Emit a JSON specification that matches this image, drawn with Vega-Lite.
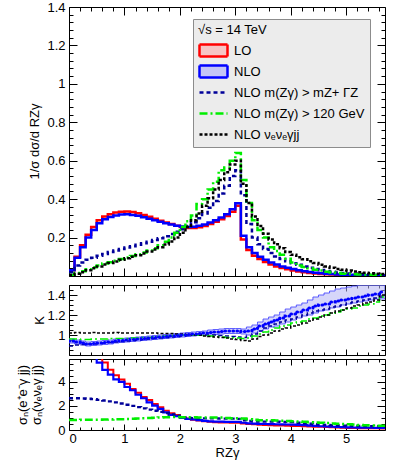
{
 "$schema": "https://vega.github.io/schema/vega-lite/v6.json",
 "padding": {"left": 15, "top": 0, "right": 9, "bottom": 0},
 "autosize": {"type": "pad"},
 "bounds": "flush",
 "spacing": 9,
 "config": {
  "font": "Liberation Sans",
  "view": {"stroke": "black", "strokeWidth": 1},
  "axis": {"domain": false, "grid": false, "labelFont": "Liberation Sans", "labelFontSize": 13, "labelColor": "black", "tickColor": "black", "tickWidth": 1, "titleFont": "Liberation Sans", "titleFontSize": 13, "titleFontWeight": "normal", "titleColor": "black", "labelOverlap": false, "minExtent": 0},
  "axisY": {"minExtent": 0, "labelPadding": 12},
  "axisX": {"minExtent": 0, "labelPadding": 8}
 },
 "resolve": {"scale": {"x": "independent", "y": "independent", "color": "independent", "strokeDash": "independent", "strokeWidth": "independent"}},
 "datasets": {
  "top": [
   {"x":0,"LO":0.03,"NLO":0.03,"A":0.02,"B":0.005,"C":0.005},
   {"x":0.1,"LO":0.10,"NLO":0.095,"A":0.055,"B":0.015,"C":0.012},
   {"x":0.2,"LO":0.16,"NLO":0.15,"A":0.07,"B":0.025,"C":0.02},
   {"x":0.3,"LO":0.215,"NLO":0.20,"A":0.085,"B":0.035,"C":0.03},
   {"x":0.4,"LO":0.255,"NLO":0.24,"A":0.095,"B":0.045,"C":0.04},
   {"x":0.5,"LO":0.29,"NLO":0.275,"A":0.105,"B":0.055,"C":0.05},
   {"x":0.6,"LO":0.31,"NLO":0.295,"A":0.115,"B":0.065,"C":0.06},
   {"x":0.7,"LO":0.322,"NLO":0.307,"A":0.125,"B":0.072,"C":0.068},
   {"x":0.8,"LO":0.33,"NLO":0.315,"A":0.133,"B":0.08,"C":0.076},
   {"x":0.9,"LO":0.335,"NLO":0.32,"A":0.14,"B":0.088,"C":0.085},
   {"x":1.0,"LO":0.336,"NLO":0.321,"A":0.148,"B":0.096,"C":0.093},
   {"x":1.1,"LO":0.333,"NLO":0.318,"A":0.155,"B":0.104,"C":0.1},
   {"x":1.2,"LO":0.327,"NLO":0.313,"A":0.162,"B":0.113,"C":0.108},
   {"x":1.3,"LO":0.318,"NLO":0.306,"A":0.17,"B":0.122,"C":0.117},
   {"x":1.4,"LO":0.308,"NLO":0.298,"A":0.178,"B":0.133,"C":0.127},
   {"x":1.5,"LO":0.298,"NLO":0.29,"A":0.187,"B":0.145,"C":0.138},
   {"x":1.6,"LO":0.288,"NLO":0.282,"A":0.196,"B":0.16,"C":0.15},
   {"x":1.7,"LO":0.279,"NLO":0.275,"A":0.207,"B":0.178,"C":0.164},
   {"x":1.8,"LO":0.27,"NLO":0.268,"A":0.218,"B":0.2,"C":0.18},
   {"x":1.9,"LO":0.262,"NLO":0.262,"A":0.23,"B":0.225,"C":0.2},
   {"x":2.0,"LO":0.255,"NLO":0.257,"A":0.243,"B":0.255,"C":0.225},
   {"x":2.1,"LO":0.25,"NLO":0.255,"A":0.26,"B":0.285,"C":0.255},
   {"x":2.2,"LO":0.25,"NLO":0.256,"A":0.28,"B":0.315,"C":0.29},
   {"x":2.3,"LO":0.254,"NLO":0.262,"A":0.3,"B":0.375,"C":0.325},
   {"x":2.4,"LO":0.26,"NLO":0.268,"A":0.325,"B":0.4,"C":0.365},
   {"x":2.5,"LO":0.27,"NLO":0.278,"A":0.355,"B":0.45,"C":0.405},
   {"x":2.6,"LO":0.282,"NLO":0.29,"A":0.39,"B":0.49,"C":0.45},
   {"x":2.7,"LO":0.296,"NLO":0.305,"A":0.43,"B":0.55,"C":0.5},
   {"x":2.8,"LO":0.312,"NLO":0.322,"A":0.47,"B":0.565,"C":0.54},
   {"x":2.9,"LO":0.335,"NLO":0.348,"A":0.52,"B":0.6,"C":0.58},
   {"x":3.0,"LO":0.365,"NLO":0.378,"A":0.55,"B":0.64,"C":0.6},
   {"x":3.1,"LO":0.19,"NLO":0.21,"A":0.42,"B":0.5,"C":0.48},
   {"x":3.2,"LO":0.135,"NLO":0.15,"A":0.27,"B":0.38,"C":0.38},
   {"x":3.3,"LO":0.105,"NLO":0.12,"A":0.2,"B":0.29,"C":0.31},
   {"x":3.4,"LO":0.088,"NLO":0.1,"A":0.165,"B":0.24,"C":0.26},
   {"x":3.5,"LO":0.073,"NLO":0.085,"A":0.14,"B":0.2,"C":0.22},
   {"x":3.6,"LO":0.06,"NLO":0.07,"A":0.12,"B":0.15,"C":0.19},
   {"x":3.7,"LO":0.05,"NLO":0.06,"A":0.102,"B":0.13,"C":0.165},
   {"x":3.8,"LO":0.042,"NLO":0.05,"A":0.088,"B":0.11,"C":0.145},
   {"x":3.9,"LO":0.035,"NLO":0.043,"A":0.077,"B":0.09,"C":0.125},
   {"x":4.0,"LO":0.029,"NLO":0.037,"A":0.067,"B":0.07,"C":0.11},
   {"x":4.1,"LO":0.024,"NLO":0.03,"A":0.058,"B":0.055,"C":0.098},
   {"x":4.2,"LO":0.02,"NLO":0.025,"A":0.05,"B":0.047,"C":0.087},
   {"x":4.3,"LO":0.016,"NLO":0.021,"A":0.043,"B":0.04,"C":0.077},
   {"x":4.4,"LO":0.013,"NLO":0.017,"A":0.036,"B":0.033,"C":0.068},
   {"x":4.5,"LO":0.011,"NLO":0.014,"A":0.031,"B":0.028,"C":0.058},
   {"x":4.6,"LO":0.009,"NLO":0.012,"A":0.026,"B":0.022,"C":0.05},
   {"x":4.7,"LO":0.008,"NLO":0.01,"A":0.022,"B":0.018,"C":0.043},
   {"x":4.8,"LO":0.006,"NLO":0.008,"A":0.018,"B":0.015,"C":0.037},
   {"x":4.9,"LO":0.005,"NLO":0.007,"A":0.015,"B":0.012,"C":0.032},
   {"x":5.0,"LO":0.004,"NLO":0.006,"A":0.013,"B":0.01,"C":0.028},
   {"x":5.1,"LO":0.004,"NLO":0.005,"A":0.011,"B":0.009,"C":0.024},
   {"x":5.2,"LO":0.003,"NLO":0.004,"A":0.009,"B":0.008,"C":0.02},
   {"x":5.3,"LO":0.003,"NLO":0.004,"A":0.008,"B":0.007,"C":0.017},
   {"x":5.4,"LO":0.002,"NLO":0.003,"A":0.006,"B":0.006,"C":0.014},
   {"x":5.5,"LO":0.002,"NLO":0.003,"A":0.005,"B":0.005,"C":0.012},
   {"x":5.6,"LO":0.002,"NLO":0.002,"A":0.004,"B":0.005,"C":0.01},
   {"x":5.7,"LO":0.002,"NLO":0.002,"A":0.004,"B":0.005,"C":0.01}
  ],
  "k": [
   {"x":0,"lo":0.92,"hi":0.96,"c":0.94,"A":0.89,"B":0.96,"C":1.02},
   {"x":0.1,"lo":0.91,"hi":0.95,"c":0.93,"A":0.9,"B":0.96,"C":1.025},
   {"x":0.2,"lo":0.9,"hi":0.94,"c":0.92,"A":0.905,"B":0.955,"C":1.02},
   {"x":0.3,"lo":0.89,"hi":0.93,"c":0.91,"A":0.91,"B":0.955,"C":1.02},
   {"x":0.4,"lo":0.895,"hi":0.935,"c":0.915,"A":0.91,"B":0.96,"C":1.025},
   {"x":0.5,"lo":0.9,"hi":0.94,"c":0.92,"A":0.915,"B":0.96,"C":1.02},
   {"x":0.6,"lo":0.905,"hi":0.945,"c":0.925,"A":0.92,"B":0.96,"C":1.02},
   {"x":0.7,"lo":0.91,"hi":0.95,"c":0.93,"A":0.925,"B":0.965,"C":1.02},
   {"x":0.8,"lo":0.92,"hi":0.96,"c":0.94,"A":0.93,"B":0.965,"C":1.025},
   {"x":0.9,"lo":0.925,"hi":0.965,"c":0.945,"A":0.935,"B":0.965,"C":1.02},
   {"x":1.0,"lo":0.93,"hi":0.97,"c":0.95,"A":0.94,"B":0.965,"C":1.02},
   {"x":1.1,"lo":0.935,"hi":0.975,"c":0.955,"A":0.945,"B":0.97,"C":1.02},
   {"x":1.2,"lo":0.94,"hi":0.98,"c":0.96,"A":0.95,"B":0.97,"C":1.02},
   {"x":1.3,"lo":0.945,"hi":0.985,"c":0.965,"A":0.955,"B":0.975,"C":1.02},
   {"x":1.4,"lo":0.95,"hi":0.99,"c":0.97,"A":0.96,"B":0.975,"C":1.02},
   {"x":1.5,"lo":0.955,"hi":0.995,"c":0.975,"A":0.965,"B":0.98,"C":1.02},
   {"x":1.6,"lo":0.96,"hi":1.0,"c":0.98,"A":0.97,"B":0.985,"C":1.015},
   {"x":1.7,"lo":0.965,"hi":1.005,"c":0.985,"A":0.975,"B":0.99,"C":1.015},
   {"x":1.8,"lo":0.97,"hi":1.01,"c":0.99,"A":0.98,"B":0.995,"C":1.015},
   {"x":1.9,"lo":0.975,"hi":1.015,"c":0.995,"A":0.985,"B":1.0,"C":1.01},
   {"x":2.0,"lo":0.98,"hi":1.02,"c":1.0,"A":0.99,"B":1.0,"C":1.01},
   {"x":2.1,"lo":0.985,"hi":1.025,"c":1.005,"A":0.995,"B":1.0,"C":1.005},
   {"x":2.2,"lo":0.99,"hi":1.03,"c":1.01,"A":1.0,"B":1.0,"C":1.0},
   {"x":2.3,"lo":0.995,"hi":1.035,"c":1.015,"A":1.0,"B":1.0,"C":1.0},
   {"x":2.4,"lo":1.0,"hi":1.04,"c":1.02,"A":1.0,"B":0.995,"C":0.99},
   {"x":2.5,"lo":1.0,"hi":1.05,"c":1.025,"A":1.0,"B":0.99,"C":0.985},
   {"x":2.6,"lo":1.005,"hi":1.055,"c":1.03,"A":1.0,"B":0.985,"C":0.98},
   {"x":2.7,"lo":1.01,"hi":1.06,"c":1.035,"A":0.995,"B":0.98,"C":0.975},
   {"x":2.8,"lo":1.015,"hi":1.065,"c":1.04,"A":0.99,"B":0.975,"C":0.97},
   {"x":2.9,"lo":1.015,"hi":1.065,"c":1.04,"A":0.985,"B":0.972,"C":0.96},
   {"x":3.0,"lo":1.015,"hi":1.065,"c":1.04,"A":0.98,"B":0.97,"C":0.955},
   {"x":3.1,"lo":1.01,"hi":1.06,"c":1.035,"A":0.975,"B":0.965,"C":0.945},
   {"x":3.2,"lo":1.0,"hi":1.08,"c":1.04,"A":0.99,"B":0.97,"C":0.94},
   {"x":3.3,"lo":1.02,"hi":1.1,"c":1.06,"A":1.01,"B":0.99,"C":0.96},
   {"x":3.4,"lo":1.04,"hi":1.13,"c":1.09,"A":1.04,"B":1.01,"C":0.985},
   {"x":3.5,"lo":1.06,"hi":1.16,"c":1.11,"A":1.07,"B":1.03,"C":1.0},
   {"x":3.6,"lo":1.08,"hi":1.18,"c":1.13,"A":1.09,"B":1.05,"C":1.02},
   {"x":3.7,"lo":1.09,"hi":1.2,"c":1.15,"A":1.11,"B":1.07,"C":1.04},
   {"x":3.8,"lo":1.11,"hi":1.23,"c":1.17,"A":1.13,"B":1.09,"C":1.06},
   {"x":3.9,"lo":1.13,"hi":1.26,"c":1.19,"A":1.15,"B":1.1,"C":1.07},
   {"x":4.0,"lo":1.15,"hi":1.28,"c":1.21,"A":1.16,"B":1.12,"C":1.09},
   {"x":4.1,"lo":1.17,"hi":1.3,"c":1.23,"A":1.18,"B":1.13,"C":1.1},
   {"x":4.2,"lo":1.19,"hi":1.32,"c":1.25,"A":1.2,"B":1.14,"C":1.12},
   {"x":4.3,"lo":1.2,"hi":1.35,"c":1.27,"A":1.22,"B":1.16,"C":1.14},
   {"x":4.4,"lo":1.22,"hi":1.38,"c":1.29,"A":1.24,"B":1.17,"C":1.16},
   {"x":4.5,"lo":1.24,"hi":1.4,"c":1.3,"A":1.25,"B":1.19,"C":1.18},
   {"x":4.6,"lo":1.25,"hi":1.42,"c":1.31,"A":1.26,"B":1.2,"C":1.2},
   {"x":4.7,"lo":1.27,"hi":1.44,"c":1.33,"A":1.28,"B":1.22,"C":1.22},
   {"x":4.8,"lo":1.28,"hi":1.46,"c":1.34,"A":1.29,"B":1.23,"C":1.24},
   {"x":4.9,"lo":1.3,"hi":1.47,"c":1.35,"A":1.3,"B":1.25,"C":1.25},
   {"x":5.0,"lo":1.31,"hi":1.48,"c":1.36,"A":1.32,"B":1.26,"C":1.27},
   {"x":5.1,"lo":1.32,"hi":1.49,"c":1.37,"A":1.33,"B":1.27,"C":1.29},
   {"x":5.2,"lo":1.33,"hi":1.5,"c":1.38,"A":1.34,"B":1.29,"C":1.3},
   {"x":5.3,"lo":1.34,"hi":1.5,"c":1.39,"A":1.35,"B":1.3,"C":1.32},
   {"x":5.4,"lo":1.35,"hi":1.5,"c":1.4,"A":1.36,"B":1.31,"C":1.33},
   {"x":5.5,"lo":1.36,"hi":1.5,"c":1.41,"A":1.37,"B":1.33,"C":1.35},
   {"x":5.6,"lo":1.36,"hi":1.5,"c":1.43,"A":1.38,"B":1.38,"C":1.4},
   {"x":5.7,"lo":1.36,"hi":1.5,"c":1.43,"A":1.38,"B":1.38,"C":1.4}
  ],
  "r": [
   {"x":0,"LO":9,"NLO":null,"A":2.64,"B":0.84},
   {"x":0.1,"LO":9,"NLO":null,"A":2.64,"B":0.84},
   {"x":0.2,"LO":9,"NLO":null,"A":2.62,"B":0.85},
   {"x":0.3,"LO":9,"NLO":null,"A":2.6,"B":0.85},
   {"x":0.4,"LO":9,"NLO":8,"A":2.56,"B":0.86},
   {"x":0.5,"LO":8,"NLO":5.6,"A":2.5,"B":0.86},
   {"x":0.6,"LO":5.6,"NLO":5.0,"A":2.45,"B":0.87},
   {"x":0.7,"LO":5.0,"NLO":4.6,"A":2.38,"B":0.88},
   {"x":0.8,"LO":4.55,"NLO":4.2,"A":2.3,"B":0.89},
   {"x":0.9,"LO":4.2,"NLO":4.0,"A":2.2,"B":0.9},
   {"x":1.0,"LO":3.85,"NLO":3.57,"A":2.1,"B":0.92},
   {"x":1.1,"LO":3.4,"NLO":3.3,"A":2.0,"B":0.94},
   {"x":1.2,"LO":3.1,"NLO":2.93,"A":1.9,"B":0.96},
   {"x":1.3,"LO":2.75,"NLO":2.64,"A":1.8,"B":0.98},
   {"x":1.4,"LO":2.5,"NLO":2.3,"A":1.7,"B":1.0},
   {"x":1.5,"LO":2.17,"NLO":2.03,"A":1.6,"B":1.02},
   {"x":1.6,"LO":1.9,"NLO":1.75,"A":1.5,"B":1.04},
   {"x":1.7,"LO":1.6,"NLO":1.47,"A":1.4,"B":1.06},
   {"x":1.8,"LO":1.4,"NLO":1.25,"A":1.3,"B":1.08},
   {"x":1.9,"LO":1.25,"NLO":1.15,"A":1.2,"B":1.08},
   {"x":2.0,"LO":1.05,"NLO":1.0,"A":1.05,"B":1.05},
   {"x":2.1,"LO":0.95,"NLO":0.92,"A":1.0,"B":1.05},
   {"x":2.2,"LO":0.85,"NLO":0.88,"A":0.98,"B":1.05},
   {"x":2.3,"LO":0.78,"NLO":0.82,"A":0.97,"B":1.04},
   {"x":2.4,"LO":0.72,"NLO":0.76,"A":0.97,"B":1.04},
   {"x":2.5,"LO":0.68,"NLO":0.72,"A":0.96,"B":1.04},
   {"x":2.6,"LO":0.65,"NLO":0.7,"A":0.96,"B":1.04},
   {"x":2.7,"LO":0.63,"NLO":0.69,"A":0.95,"B":1.03},
   {"x":2.8,"LO":0.62,"NLO":0.68,"A":0.95,"B":1.0},
   {"x":2.9,"LO":0.61,"NLO":0.68,"A":0.95,"B":0.98},
   {"x":3.0,"LO":0.6,"NLO":0.67,"A":0.92,"B":0.98},
   {"x":3.1,"LO":0.55,"NLO":0.6,"A":0.8,"B":0.95},
   {"x":3.2,"LO":0.5,"NLO":0.55,"A":0.75,"B":0.9},
   {"x":3.3,"LO":0.47,"NLO":0.53,"A":0.72,"B":0.85},
   {"x":3.4,"LO":0.44,"NLO":0.51,"A":0.7,"B":0.82},
   {"x":3.5,"LO":0.42,"NLO":0.5,"A":0.7,"B":0.8},
   {"x":3.6,"LO":0.4,"NLO":0.49,"A":0.7,"B":0.8},
   {"x":3.7,"LO":0.38,"NLO":0.48,"A":0.69,"B":0.78},
   {"x":3.8,"LO":0.37,"NLO":0.47,"A":0.68,"B":0.76},
   {"x":3.9,"LO":0.36,"NLO":0.46,"A":0.67,"B":0.74},
   {"x":4.0,"LO":0.34,"NLO":0.44,"A":0.66,"B":0.72},
   {"x":4.1,"LO":0.33,"NLO":0.42,"A":0.6,"B":0.7},
   {"x":4.2,"LO":0.32,"NLO":0.4,"A":0.56,"B":0.68},
   {"x":4.3,"LO":0.3,"NLO":0.37,"A":0.52,"B":0.65},
   {"x":4.4,"LO":0.28,"NLO":0.34,"A":0.48,"B":0.62},
   {"x":4.5,"LO":0.26,"NLO":0.31,"A":0.45,"B":0.6},
   {"x":4.6,"LO":0.24,"NLO":0.29,"A":0.42,"B":0.58},
   {"x":4.7,"LO":0.22,"NLO":0.27,"A":0.4,"B":0.55},
   {"x":4.8,"LO":0.2,"NLO":0.25,"A":0.38,"B":0.52},
   {"x":4.9,"LO":0.18,"NLO":0.24,"A":0.37,"B":0.5},
   {"x":5.0,"LO":0.17,"NLO":0.22,"A":0.36,"B":0.47},
   {"x":5.1,"LO":0.16,"NLO":0.21,"A":0.35,"B":0.45},
   {"x":5.2,"LO":0.15,"NLO":0.2,"A":0.34,"B":0.42},
   {"x":5.3,"LO":0.15,"NLO":0.2,"A":0.33,"B":0.4},
   {"x":5.4,"LO":0.14,"NLO":0.19,"A":0.32,"B":0.38},
   {"x":5.5,"LO":0.14,"NLO":0.18,"A":0.31,"B":0.36},
   {"x":5.6,"LO":0.13,"NLO":0.17,"A":0.3,"B":0.35},
   {"x":5.7,"LO":0.13,"NLO":0.17,"A":0.3,"B":0.35}
  ]
 },
 "vconcat": [
  {
   "width": 316, "height": 269,
   "data": {"name": "top"},
   "resolve": {"axis": {"x": "independent", "y": "independent"}},
   "layer": [
    {
     "transform": [{"fold": ["LO","NLO","A","B","C"], "as": ["s","y"]}],
     "mark": {"type": "line", "interpolate": "step-after", "clip": true},
     "encoding": {
      "x": {"field": "x", "type": "quantitative", "scale": {"domain": [0, 5.7], "nice": false, "zero": false},
            "axis": {"orient": "bottom", "title": null, "labels": false, "values": [0,0.2,0.4,0.6,0.8,1,1.2,1.4,1.6,1.8,2,2.2,2.4,2.6,2.8,3,3.2,3.4,3.6,3.8,4,4.2,4.4,4.6,4.8,5,5.2,5.4,5.6],
                     "tickSize": {"condition": {"test": "abs(datum.value-round(datum.value))<0.001", "value": -8}, "value": -4}}},
      "y": {"field": "y", "type": "quantitative", "scale": {"domain": [0, 1.4], "nice": false},
            "axis": {"orient": "left", "title": "1/σ dσ/d RZγ", "titleX": -35, "titleY": 134, "titleAngle": 270, "titleAlign": "center", "titleBaseline": "middle",
                     "values": [0,0.04,0.08,0.12,0.16,0.2,0.24,0.28,0.32,0.36,0.4,0.44,0.48,0.52,0.56,0.6,0.64,0.68,0.72,0.76,0.8,0.84,0.88,0.92,0.96,1,1.04,1.08,1.12,1.16,1.2,1.24,1.28,1.32,1.36,1.4],
                     "labelExpr": "abs(datum.value*5-round(datum.value*5))<0.001 && datum.value>0.01 ? format(datum.value,'~g') : ''",
                     "tickSize": {"condition": {"test": "abs(datum.value*5-round(datum.value*5))<0.001", "value": -8}, "value": -4}}},
      "color": {"field": "s", "type": "nominal",
                "scale": {"domain": ["LO","NLO","A","B","C"], "range": ["#ff0000","#0000ff","#000099","#00ee00","#000000"]},
                "legend": {"title": "√s = 14 TeV", "orient": "none", "legendX": 124, "legendY": 12,
                           "fillColor": "#ececec", "strokeColor": "#8c8c8c", "padding": 5,
                           "titleFontSize": 13, "titleFontWeight": "normal", "titleFont": "Liberation Sans", "titleColor": "black", "titlePadding": 4,
                           "labelFontSize": 13, "labelFont": "Liberation Sans", "labelColor": "black", "labelOffset": 17, "labelLimit": 300,
                           "symbolSize": 256, "symbolType": "M-1,0L2.5,0", "symbolStrokeWidth": 1.5, "rowPadding": 4,
                           "labelExpr": "datum.label=='A' ? 'NLO m(Zγ) > mZ+ ΓZ' : datum.label=='B' ? 'NLO m(Zγ) > 120 GeV\u00a0\u00a0\u00a0\u00a0' : datum.label=='C' ? 'NLO  νₑνₑγjj' : datum.label",
                           "encode": {"symbols": {"update": {
                             "shape": {"signal": "(datum.value=='LO'||datum.value=='NLO') ? 'M-1,-0.75L2.5,-0.75L2.5,0.75L-1,0.75Z' : 'M-1,0L2.5,0'"},
                             "fill": {"signal": "datum.value=='LO' ? '#f6c4c4' : datum.value=='NLO' ? '#c4c4f6' : 'transparent'"},
                             "strokeJoin": {"value": "round"},
                             "strokeWidth": {"signal": "datum.value=='C' ? 3 : datum.value=='LO' || datum.value=='NLO' ? 1 : 1.5"}}}}}},
      "strokeDash": {"field": "s", "type": "nominal",
                     "scale": {"domain": ["LO","NLO","A","B","C"], "range": [[1,0],[1,0],[4,3],[8,3,2,3],[3,2]]}},
      "strokeWidth": {"field": "s", "type": "ordinal",
                      "scale": {"domain": ["LO","NLO","A","B","C"], "range": [2.5,2.5,1.5,1.5,3]}, "legend": null}
     }
    },
    {
     "mark": {"type": "point", "opacity": 0},
     "encoding": {
      "x": {"field": "x", "type": "quantitative", "scale": {"domain": [0, 5.7], "nice": false, "zero": false},
            "axis": {"orient": "top", "title": null, "labels": false, "values": [0,0.2,0.4,0.6,0.8,1,1.2,1.4,1.6,1.8,2,2.2,2.4,2.6,2.8,3,3.2,3.4,3.6,3.8,4,4.2,4.4,4.6,4.8,5,5.2,5.4,5.6],
                     "tickSize": {"condition": {"test": "abs(datum.value-round(datum.value))<0.001", "value": -8}, "value": -4}}},
      "y": {"field": "LO", "type": "quantitative", "scale": {"domain": [0, 1.4], "nice": false},
            "axis": {"orient": "right", "title": null, "labels": false,
                     "values": [0,0.04,0.08,0.12,0.16,0.2,0.24,0.28,0.32,0.36,0.4,0.44,0.48,0.52,0.56,0.6,0.64,0.68,0.72,0.76,0.8,0.84,0.88,0.92,0.96,1,1.04,1.08,1.12,1.16,1.2,1.24,1.28,1.32,1.36,1.4],
                     "tickSize": {"condition": {"test": "abs(datum.value*5-round(datum.value*5))<0.001", "value": -8}, "value": -4}}}
     }
    }
   ]
  },
  {
   "bounds": "flush",
   "spacing": 4,
   "resolve": {"scale": {"x": "independent", "y": "independent", "color": "independent", "strokeDash": "independent", "strokeWidth": "independent"}},
   "vconcat": [
    {
     "width": 316, "height": 70,
     "data": {"name": "k"},
     "resolve": {"axis": {"x": "independent", "y": "independent"}},
     "layer": [
      {
       "mark": {"type": "area", "interpolate": "step-after", "fill": "#b4b4f4", "fillOpacity": 0.55, "stroke": "#3c3cff", "strokeWidth": 0.8, "clip": true},
       "encoding": {
        "x": {"field": "x", "type": "quantitative", "scale": {"domain": [0, 5.7], "nice": false, "zero": false},
              "axis": {"orient": "bottom", "title": null, "labels": false, "values": [0,0.2,0.4,0.6,0.8,1,1.2,1.4,1.6,1.8,2,2.2,2.4,2.6,2.8,3,3.2,3.4,3.6,3.8,4,4.2,4.4,4.6,4.8,5,5.2,5.4,5.6],
                       "tickSize": {"condition": {"test": "abs(datum.value-round(datum.value))<0.001", "value": -6}, "value": -3}}},
        "y": {"field": "lo", "type": "quantitative", "scale": {"domain": [0.8, 1.5], "nice": false, "zero": false},
              "axis": {"orient": "left", "title": "K", "titleX": -30, "titleY": 35, "titleAngle": 270, "titleAlign": "center", "titleBaseline": "middle",
                       "values": [0.8,0.85,0.9,0.95,1,1.05,1.1,1.15,1.2,1.25,1.3,1.35,1.4,1.45,1.5],
                       "labelExpr": "abs(datum.value*5-round(datum.value*5))<0.001 && datum.value>0.9 ? format(datum.value,'~g') : ''",
                       "tickSize": {"condition": {"test": "abs(datum.value*5-round(datum.value*5))<0.001", "value": -8}, "value": -4}}},
        "y2": {"field": "hi"}
       }
      },
      {
       "transform": [{"fold": ["A","B","C"], "as": ["s","y"]}],
       "mark": {"type": "line", "interpolate": "step-after", "clip": true},
       "encoding": {
        "x": {"field": "x", "type": "quantitative", "axis": null},
        "y": {"field": "y", "type": "quantitative", "axis": null},
        "color": {"field": "s", "type": "nominal", "scale": {"domain": ["A","B","C"], "range": ["#000099","#00ee00","#000000"]}, "legend": null},
        "strokeDash": {"field": "s", "type": "nominal", "scale": {"domain": ["A","B","C"], "range": [[4,3],[8,3,2,3],[3,2]]}, "legend": null},
        "strokeWidth": {"field": "s", "type": "ordinal", "scale": {"domain": ["A","B","C"], "range": [1.5,1.5,3]}, "legend": null}
       }
      },
      {
       "mark": {"type": "line", "interpolate": "step-after", "color": "#0000ff", "strokeWidth": 3.2, "strokeDash": [0.5, 3.5], "strokeCap": "round", "clip": true},
       "encoding": {
        "x": {"field": "x", "type": "quantitative", "axis": null},
        "y": {"field": "c", "type": "quantitative", "axis": null}
       }
      },
      {
       "mark": {"type": "point", "opacity": 0},
       "encoding": {
        "x": {"field": "x", "type": "quantitative",
              "axis": {"orient": "top", "title": null, "labels": false, "values": [0,0.2,0.4,0.6,0.8,1,1.2,1.4,1.6,1.8,2,2.2,2.4,2.6,2.8,3,3.2,3.4,3.6,3.8,4,4.2,4.4,4.6,4.8,5,5.2,5.4,5.6],
                       "tickSize": {"condition": {"test": "abs(datum.value-round(datum.value))<0.001", "value": -6}, "value": -3}}},
        "y": {"field": "c", "type": "quantitative",
              "axis": {"orient": "right", "title": null, "labels": false,
                       "values": [0.8,0.85,0.9,0.95,1,1.05,1.1,1.15,1.2,1.25,1.3,1.35,1.4,1.45,1.5],
                       "tickSize": {"condition": {"test": "abs(datum.value*5-round(datum.value*5))<0.001", "value": -8}, "value": -4}}}
       }
      }
     ]
    },
    {
     "width": 316, "height": 71,
     "data": {"name": "r"},
     "resolve": {"axis": {"x": "independent", "y": "independent"}},
     "layer": [
      {
       "transform": [{"fold": ["LO","NLO","A","B"], "as": ["s","y"]}],
       "mark": {"type": "line", "interpolate": "step-after", "clip": true},
       "encoding": {
        "x": {"field": "x", "type": "quantitative", "scale": {"domain": [0, 5.7], "nice": false, "zero": false},
              "axis": {"orient": "bottom", "title": "RZγ", "titlePadding": -2,
                       "values": [0,0.2,0.4,0.6,0.8,1,1.2,1.4,1.6,1.8,2,2.2,2.4,2.6,2.8,3,3.2,3.4,3.6,3.8,4,4.2,4.4,4.6,4.8,5,5.2,5.4,5.6],
                       "labelExpr": "abs(datum.value-round(datum.value))<0.001 ? format(datum.value,'d') : ''",
                       "tickSize": {"condition": {"test": "abs(datum.value-round(datum.value))<0.001", "value": -6}, "value": -3}}},
        "y": {"field": "y", "type": "quantitative", "scale": {"domain": [0, 5.9], "nice": false},
              "axis": {"orient": "left", "title": ["σₙ(e⁺e⁻γ jj)", "σₙ(νₑνₑγ jj)"], "titleX": -47, "titleY": 35.5, "titleAngle": 270, "titleAlign": "center", "titleBaseline": "middle", "titleLineHeight": 14,
                       "values": [0,0.5,1,1.5,2,2.5,3,3.5,4,4.5,5,5.5],
                       "labelExpr": "abs(datum.value/2-round(datum.value/2))<0.001 ? format(datum.value,'d') : ''",
                       "tickSize": {"condition": {"test": "abs(datum.value/2-round(datum.value/2))<0.001", "value": -8}, "value": -4}}},
        "color": {"field": "s", "type": "nominal", "scale": {"domain": ["LO","NLO","A","B"], "range": ["#ff0000","#0000ff","#000099","#00ee00"]}, "legend": null},
        "strokeDash": {"field": "s", "type": "nominal", "scale": {"domain": ["LO","NLO","A","B"], "range": [[1,0],[1,0],[4,3],[8,3,2,3]]}, "legend": null},
        "strokeWidth": {"field": "s", "type": "ordinal", "scale": {"domain": ["LO","NLO","A","B"], "range": [2,2.5,1.5,1.5]}, "legend": null}
       }
      },
      {
       "mark": {"type": "point", "opacity": 0},
       "encoding": {
        "x": {"field": "x", "type": "quantitative",
              "axis": {"orient": "top", "title": null, "labels": false, "values": [0,0.2,0.4,0.6,0.8,1,1.2,1.4,1.6,1.8,2,2.2,2.4,2.6,2.8,3,3.2,3.4,3.6,3.8,4,4.2,4.4,4.6,4.8,5,5.2,5.4,5.6],
                       "tickSize": {"condition": {"test": "abs(datum.value-round(datum.value))<0.001", "value": -6}, "value": -3}}},
        "y": {"field": "A", "type": "quantitative",
              "axis": {"orient": "right", "title": null, "labels": false,
                       "values": [0,0.5,1,1.5,2,2.5,3,3.5,4,4.5,5,5.5],
                       "tickSize": {"condition": {"test": "abs(datum.value/2-round(datum.value/2))<0.001", "value": -8}, "value": -4}}}
       }
      }
     ]
    }
   ]
  }
 ]
}
